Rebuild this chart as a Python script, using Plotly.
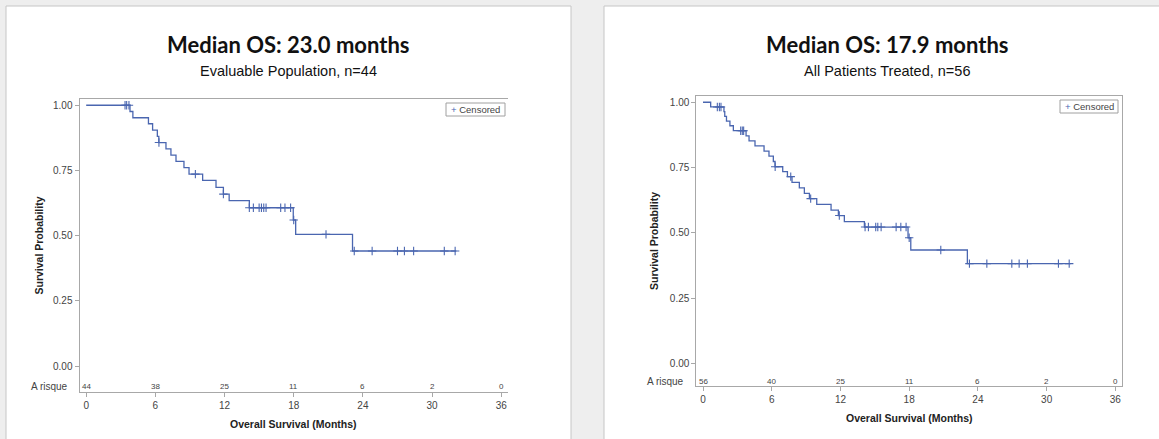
import bisect
import plotly.graph_objects as go

W, H = 1159, 439

# ---- Evaluable population (n=44) ----
eval_step_t = [0, 3.8, 4.05, 5.4, 5.76, 6.17, 6.3, 6.92, 7.35, 7.79, 8.48, 8.92, 10.1,
               11.26, 11.9, 12.4, 14.15, 17.96, 18.17, 23.1, 32.1]
eval_step_s = [1.0, 0.976, 0.952, 0.929, 0.905, 0.881, 0.857, 0.833, 0.809, 0.785, 0.761,
               0.736, 0.712, 0.685, 0.659, 0.634, 0.607, 0.56, 0.505, 0.441, 0.441]
eval_censor_t = [3.37, 3.51, 3.71, 6.31, 9.47, 11.9, 14.15, 14.5, 15.0, 15.2, 15.4, 15.6,
                 16.87, 17.24, 17.73, 18.0, 20.8, 23.25, 24.8, 27.0, 27.6, 28.4, 31.06, 32.0]
eval_at_risk = [44, 38, 25, 11, 6, 2, 0]

# ---- All patients treated (n=56) ----
all_step_t = [0, 0.67, 1.83, 1.9, 2.05, 2.35, 2.65, 3.76, 4.02, 4.54, 5.33, 5.76, 6.14, 6.29,
              6.96, 7.37, 7.77, 8.41, 8.85, 9.29, 9.93, 11.18, 11.82, 12.34, 14.09, 17.9,
              18.14, 23.08, 32.1]
all_step_s = [1.0, 0.982, 0.964, 0.946, 0.928, 0.910, 0.891, 0.871, 0.852, 0.833, 0.813,
              0.794, 0.773, 0.753, 0.734, 0.715, 0.693, 0.672, 0.651, 0.631, 0.609, 0.587,
              0.566, 0.543, 0.522, 0.481, 0.434, 0.382, 0.382]
all_censor_t = [1.25, 1.43, 1.57, 3.29, 3.43, 3.55, 6.3, 7.66, 9.4, 11.9, 14.15, 14.44, 15.08,
                15.26, 15.55, 16.86, 17.27, 17.73, 18.0, 20.76, 23.26, 24.78, 26.96, 27.6,
                28.32, 31.03, 31.97]
all_at_risk = [56, 40, 25, 11, 6, 2, 0]

month_ticks = [0, 6, 12, 18, 24, 30, 36]
prob_ticks = [0.0, 0.25, 0.5, 0.75, 1.0]

LINE = "#4a66b0"
AXIS = "#a8a8a8"
TXT = "#444444"
SANS = "Liberation Sans, Arial"


def surv_at(step_t, step_s, t):
    i = bisect.bisect_right(step_t, t) - 1
    return step_s[max(i, 0)]


def px_x(p):
    return p / W


def px_y(p):
    return 1 - p / H


def label(x, y, text, size, color, **kw):
    d = dict(x=x, y=y, xref="paper", yref="paper", text=text, showarrow=False,
             xanchor="center", yanchor="middle", font=dict(family=SANS, size=size, color=color))
    d.update(kw)
    return d


fig = go.Figure()

panels = [
    dict(xa="x", ya="y", step_t=eval_step_t, step_s=eval_step_s, cens=eval_censor_t,
         risk=eval_at_risk, xdom=(79.5, 507.6), ydom=(99, 392), xr=[-0.58, 36.55],
         yr=[-0.0997, 1.024], risk_y=-0.077, mirror_y=False,
         title="Median OS: 23.0 months", sub="Evaluable Population, n=44",
         title_x=288, ytitle_x=38, legend=(446, 505, 103, 116)),
    dict(xa="x2", ya="y2", step_t=all_step_t, step_s=all_step_s, cens=all_censor_t,
         risk=all_at_risk, xdom=(696.3, 1122), ydom=(96, 386), xr=[-0.585, 36.58],
         yr=[-0.087, 1.024], risk_y=-0.068, mirror_y=True,
         title="Median OS: 17.9 months", sub="All Patients Treated, n=56",
         title_x=886.5, ytitle_x=654, legend=(1060, 1118, 100, 113)),
]

shapes = [
    dict(type="rect", xref="paper", yref="paper", x0=px_x(6), x1=px_x(571), y0=-0.05,
         y1=px_y(6), fillcolor="white", line=dict(color="#c6c6c6", width=1), layer="below"),
    dict(type="rect", xref="paper", yref="paper", x0=px_x(604), x1=1.05, y0=-0.05,
         y1=px_y(6), fillcolor="white", line=dict(color="#c6c6c6", width=1), layer="below"),
]
annotations = []
layout_axes = {}

for k, p in enumerate(panels):
    fig.add_trace(go.Scatter(
        x=p["step_t"], y=p["step_s"], mode="lines", line=dict(color=LINE, width=1.3, shape="hv"),
        xaxis=p["xa"], yaxis=p["ya"], showlegend=False, hoverinfo="skip"))
    cy = [surv_at(p["step_t"], p["step_s"], t) for t in p["cens"]]
    fig.add_trace(go.Scatter(
        x=p["cens"], y=cy, mode="markers",
        marker=dict(symbol="cross-thin", size=6, line=dict(color=LINE, width=1.1)),
        xaxis=p["xa"], yaxis=p["ya"], showlegend=False, hoverinfo="skip"))

    suffix = "" if k == 0 else "2"
    layout_axes["xaxis" + suffix] = dict(
        domain=[px_x(p["xdom"][0]), px_x(p["xdom"][1])], range=p["xr"],
        anchor="y" + suffix, tickvals=month_ticks, ticks="outside", ticklen=4,
        tickcolor=AXIS, showline=True, linecolor=AXIS, linewidth=1, mirror=True,
        showgrid=False, zeroline=False,
        tickfont=dict(family=SANS, size=10, color=TXT))
    layout_axes["yaxis" + suffix] = dict(
        domain=[px_y(p["ydom"][1]), px_y(p["ydom"][0])], range=p["yr"],
        anchor="x" + suffix, tickvals=prob_ticks, tickformat=".2f", ticks="outside",
        ticklen=4, tickcolor=AXIS, showline=True, linecolor=AXIS, linewidth=1,
        mirror=p["mirror_y"], showgrid=False, zeroline=False,
        tickfont=dict(family=SANS, size=10, color=TXT))

    xa, ya = p["xa"], p["ya"]
    # number at risk row
    for t, n in zip(month_ticks, p["risk"]):
        annotations.append(dict(x=t, y=p["risk_y"], xref=xa, yref=ya, text=str(n),
                                showarrow=False, xanchor="center", yanchor="middle",
                                font=dict(family=SANS, size=8, color=TXT)))
    annotations.append(dict(x=px_x(p["xdom"][0] - 10), y=p["risk_y"], xref="paper", yref=ya,
                            text="A risque", showarrow=False, xanchor="right",
                            yanchor="middle", font=dict(family=SANS, size=10, color=TXT)))

    xmid = (p["xdom"][0] + p["xdom"][1]) / 2
    ymid = (p["ydom"][0] + p["ydom"][1]) / 2
    annotations.append(dict(label(px_x(p["title_x"]), px_y(44), "<b>" + p["title"] + "</b>",
                                  22, "#111111"),
                            font=dict(family="Lato, Open Sans", size=22, color="#111111")))
    annotations.append(label(px_x(p["title_x"]), px_y(71), p["sub"], 14.5, "#111111"))
    annotations.append(label(px_x(xmid), px_y(p["ydom"][1] + 32),
                             "<b>Overall Survival (Months)</b>", 10.5, "#222222"))
    annotations.append(label(px_x(p["ytitle_x"]), px_y(ymid), "<b>Survival Probability</b>",
                             10.5, "#222222", textangle=-90))
    lx0, lx1, ly0, ly1 = p["legend"]
    shapes.append(dict(type="rect", xref="paper", yref="paper", x0=px_x(lx0), x1=px_x(lx1),
                       y0=px_y(ly1), y1=px_y(ly0), line=dict(color="#a0a0a0", width=1),
                       fillcolor="white"))
    annotations.append(label(px_x((lx0 + lx1) / 2), px_y((ly0 + ly1) / 2),
                             "<span style='color:%s'>+</span> Censored" % LINE, 9.5, TXT))

fig.update_layout(
    width=W, height=H, margin=dict(l=0, r=0, t=0, b=0),
    paper_bgcolor="#eeeeee", plot_bgcolor="white",
    shapes=shapes, annotations=annotations, **layout_axes)

fig.write_html("out.html")
